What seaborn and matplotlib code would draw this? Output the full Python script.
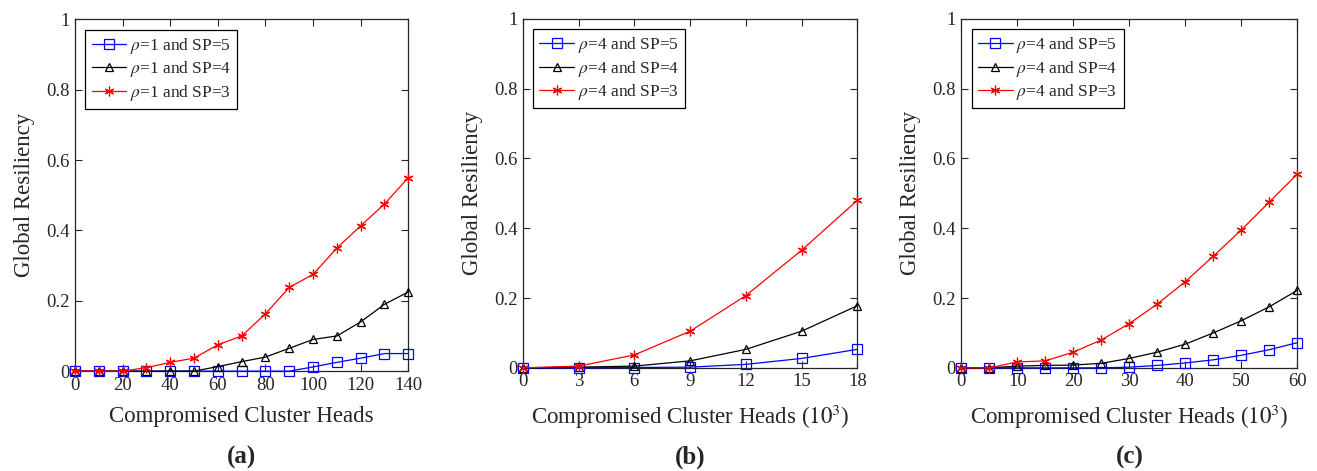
import numpy as np
import pandas as pd
import matplotlib
matplotlib.use("Agg")
import matplotlib.pyplot as plt
import seaborn as sb

# panel (a): rho=1
xa = [0, 10, 20, 30, 40, 50, 60, 70, 80, 90, 100, 110, 120, 130, 140]
a_sp5 = [0, 0, 0, 0, 0, 0, 0, 0, 0, 0, 0.012, 0.025, 0.037, 0.05, 0.05]
a_sp4 = [0, 0, 0, 0, 0, 0, 0.013, 0.027, 0.04, 0.065, 0.09, 0.1, 0.14, 0.19, 0.225]
a_sp3 = [0, 0, 0, 0.01, 0.025, 0.037, 0.075, 0.1, 0.163, 0.238, 0.275, 0.35, 0.413, 0.475, 0.55]

# panel (b): rho=4
xb = [0, 3, 6, 9, 12, 15, 18]
b_sp5 = [0, 0, 0.001, 0.002, 0.01, 0.027, 0.053]
b_sp4 = [0, 0.002, 0.005, 0.02, 0.053, 0.105, 0.178]
b_sp3 = [0, 0.005, 0.037, 0.105, 0.207, 0.337, 0.48]

# panel (c): rho=4
xc = [0, 5, 10, 15, 20, 25, 30, 35, 40, 45, 50, 55, 60]
c_sp5 = [0, 0, 0, 0, 0, 0, 0.002, 0.007, 0.014, 0.023, 0.036, 0.052, 0.072]
c_sp4 = [0, 0, 0.005, 0.007, 0.008, 0.013, 0.027, 0.045, 0.068, 0.1, 0.135, 0.175, 0.222]
c_sp3 = [0, 0, 0.017, 0.02, 0.045, 0.08, 0.127, 0.183, 0.247, 0.32, 0.395, 0.475, 0.555]

sb.set_style("ticks")
plt.rcParams['font.family'] = ['Liberation Serif', 'DejaVu Serif']
plt.rcParams['mathtext.fontset'] = 'stix'

fig = plt.figure(figsize=(13.17, 4.71), dpi=100)
rects = [[0.057, 0.212, 0.253, 0.747],
         [0.397, 0.219, 0.254, 0.741],
         [0.730, 0.219, 0.255, 0.741]]

panels = [
    (xa, [a_sp5, a_sp4, a_sp3], 1, np.arange(0, 141, 20), "Compromised Cluster Heads", "(a)"),
    (xb, [b_sp5, b_sp4, b_sp3], 4, np.arange(0, 19, 3), "Compromised Cluster Heads ($10^3$)", "(b)"),
    (xc, [c_sp5, c_sp4, c_sp3], 4, np.arange(0, 61, 10), "Compromised Cluster Heads ($10^3$)", "(c)"),
]
styles = [("blue", "s", 7, 5), ("black", "^", 6, 4), ("red", (6, 2, 0), 7, 3)]

for rect, (x, ys, rho, xt, xl, tag) in zip(rects, panels):
    ax = fig.add_axes(rect)
    for y, (col, mk, ms, sp) in zip(ys, styles):
        df = pd.DataFrame({"x": x, "y": y})
        sb.lineplot(data=df, x="x", y="y", ax=ax, color=col, marker=mk, markersize=ms,
                    markerfacecolor="none", markeredgecolor=col, markeredgewidth=0.9,
                    linewidth=0.9, clip_on=False, zorder=3, label=rf"$\rho$={rho} and SP={sp}")
    ax.set_xlim(xt[0], xt[-1])
    ax.set_ylim(0, 1)
    ax.set_xticks(xt)
    ax.set_yticks([0, 0.2, 0.4, 0.6, 0.8, 1])
    ax.set_yticklabels(["0", "0.2", "0.4", "0.6", "0.8", "1"])
    ax.tick_params(direction="in", top=True, right=True, length=5, labelsize=13.5, pad=4)
    for s in ax.spines.values():
        s.set_linewidth(0.9)
    ax.set_xlabel(xl, fontsize=16.5, labelpad=9)
    ax.set_ylabel("Global Resiliency", fontsize=16.5, labelpad=8)
    leg = ax.legend(loc="upper left", fontsize=12.5, fancybox=False, framealpha=1,
                    edgecolor="black", borderpad=0.35, labelspacing=0.2,
                    handlelength=2.0, handletextpad=0.2, borderaxespad=0.6)
    leg.get_frame().set_linewidth(0.9)
    cx = rect[0] + rect[2] / 2
    fig.text(cx, 0.005, tag, ha="center", va="bottom", fontsize=18, fontweight="bold")

plt.savefig("out.png", dpi=100)
